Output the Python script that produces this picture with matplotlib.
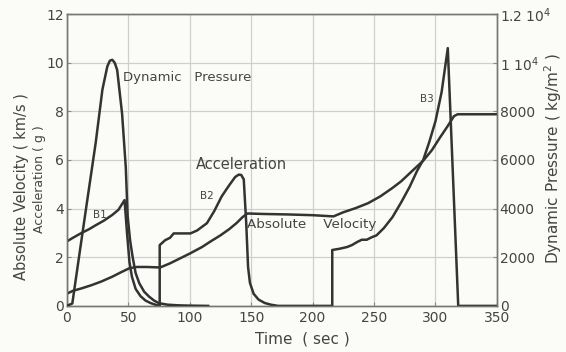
import numpy as np
import matplotlib.pyplot as plt

# acceleration (g), three burns B1, B2, B3
acc_t = [0, 0, 5, 12, 18, 24, 30, 37, 42, 47,
         49, 51, 53, 56, 60, 64, 68, 72, 75.5,
         75.6, 75.6, 80, 84, 87, 100.6, 106, 114, 120, 126, 132, 137, 140, 142, 144,
         146, 147.5, 149, 152, 156, 161, 166, 172,
         216, 216, 222, 228, 232, 236, 240, 244, 248, 252, 258, 265, 272, 279, 285,
         290, 295, 300, 305, 310, 318.5, 350]
acc_v = [0, 2.65, 2.8, 3.0, 3.15, 3.33, 3.5, 3.74, 3.95, 4.35,
         3.0, 1.8, 1.2, 0.7, 0.4, 0.22, 0.12, 0.05, 0,
         0, 2.5, 2.7, 2.8, 2.98, 2.98, 3.1, 3.4, 3.9, 4.5, 4.95, 5.3, 5.4, 5.38, 5.2,
         3.4, 1.6, 0.95, 0.5, 0.26, 0.12, 0.05, 0,
         0, 2.3, 2.35, 2.42, 2.5, 2.62, 2.72, 2.72, 2.82, 2.9, 3.2, 3.65, 4.25, 4.9, 5.55,
         6.0, 6.75, 7.6, 8.8, 10.6, 0, 0]

# absolute velocity (km/s)
vel_t = [0, 5, 12, 20, 28, 37, 44, 51, 57, 65, 76, 84, 92, 100, 110, 117, 125, 132,
         138, 143, 147, 160, 180, 200, 217, 225, 235, 245, 255, 265, 272, 280, 290,
         297, 304, 310, 315, 318, 350]
vel_v = [0.5, 0.62, 0.72, 0.85, 1.0, 1.2, 1.38, 1.55, 1.6, 1.6, 1.58, 1.75, 1.95,
         2.15, 2.42, 2.65, 2.9, 3.15, 3.4, 3.65, 3.8, 3.78, 3.76, 3.73, 3.68, 3.85,
         4.02, 4.22, 4.5, 4.85, 5.12, 5.5, 5.97, 6.4, 6.95, 7.4, 7.8, 7.88, 7.88]

# dynamic pressure (kg/m^2)
dp_t = [0, 4.5, 10, 16.7, 23.5, 29, 33, 35, 37, 39, 41, 45, 48, 49.5, 51.5, 53.5,
        56, 59, 63, 67, 71, 75, 82, 90, 100, 115]
dp_v = [0, 100, 2030, 4360, 6700, 8900, 9850, 10080, 10120, 10000, 9700, 7900, 5700,
        3700, 2700, 2030, 1350, 930, 580, 380, 220, 110, 50, 25, 10, 0]

x_ticks = [0, 50, 100, 150, 200, 250, 300, 350]
y_ticks = [0, 2, 4, 6, 8, 10, 12]
dp_ticks = [0, 2000, 4000, 6000, 8000, 10000, 12000]
dp_labels = ['0', '2000', '4000', '6000', '8000', '1 10$^4$', '1.2 10$^4$']

ink = '#333333'
txt = '#444444'

fig = plt.figure(figsize=(5.66, 3.52), dpi=100)
fig.patch.set_facecolor('#fbfbf8')
ax = fig.add_axes([0.118, 0.131, 0.760, 0.829])
ax.set_facecolor('#fbfbf8')
ax2 = ax.twinx()

ax.plot(acc_t, acc_v, color=ink, lw=1.8, zorder=3)
ax.plot(vel_t, vel_v, color=ink, lw=1.8, zorder=3)
ax2.plot(dp_t, dp_v, color=ink, lw=1.8, zorder=3)

ax.set_xlim(0, 350)
ax.set_ylim(0, 12)
ax2.set_ylim(0, 12000)
ax.set_xticks(x_ticks)
ax.set_yticks(y_ticks)
ax2.set_yticks(dp_ticks)
ax2.set_yticklabels(dp_labels)
ax.grid(True, color='#cfcfcf', lw=0.9)

for a in (ax, ax2):
    a.tick_params(direction='in', length=3, width=0.8, colors='#888888',
                  labelcolor=txt, labelsize=10)
    for s in a.spines.values():
        s.set_color('#777777')
        s.set_linewidth(1.0)
ax.tick_params(axis='y', pad=2)
ax2.tick_params(axis='y', pad=2)

ax.text(46, 9.4, 'Dynamic   Pressure', fontsize=9.5, color=txt, va='center')
ax.text(105, 5.8, 'Acceleration', fontsize=10.5, color=txt, va='center')
ax.text(147, 3.35, 'Absolute    Velocity', fontsize=9.7, color=txt, va='center')
ax.text(21, 3.75, 'B1', fontsize=7.5, color=txt, va='center')
ax.text(108, 4.5, 'B2', fontsize=7.5, color=txt, va='center')
ax.text(287, 8.5, 'B3', fontsize=7.5, color=txt, va='center')

fig.text(0.038, 0.47, 'Absolute Velocity ( km/s )', rotation=90, fontsize=10.5,
         color=txt, ha='center', va='center')
fig.text(0.069, 0.49, 'Acceleration ( g )', rotation=90, fontsize=9,
         color=txt, ha='center', va='center')
fig.text(0.977, 0.55, 'Dynamic Pressure ( kg/m$^2$ )', rotation=90, fontsize=11,
         color=txt, ha='center', va='center')
fig.text(0.534, 0.038, 'Time  ( sec )', fontsize=11, color=txt, ha='center',
         va='center')

fig.savefig('out.png', dpi=100, facecolor=fig.get_facecolor())
